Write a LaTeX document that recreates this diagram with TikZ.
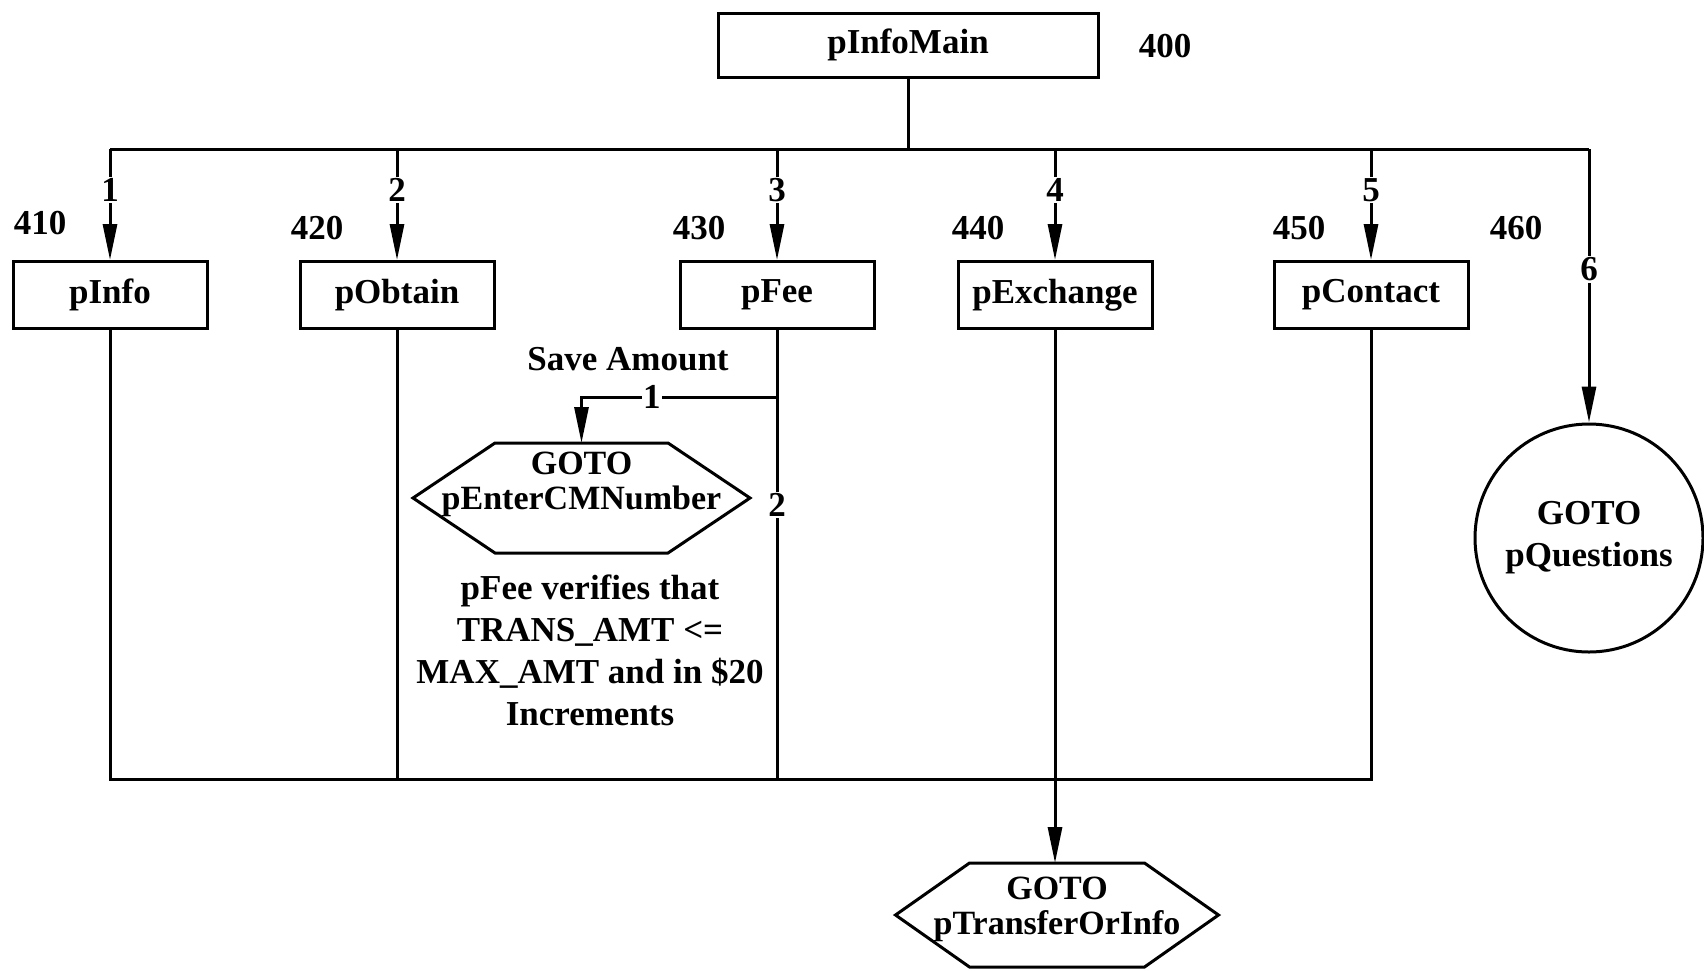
\documentclass[tikz,border=0pt]{standalone}
\usepackage{fontspec}
\setmainfont{Liberation Serif}
\usetikzlibrary{arrows.meta,calc}
\begin{document}
\begin{tikzpicture}[x=1pt,y=-1pt, line width=3pt,
  every node/.style={font=\bfseries\fontsize{35}{42}\selectfont},
  box/.style={draw, minimum width=194pt, minimum height=67pt, inner sep=0pt},
  numlab/.style={fill=white, inner sep=1.5pt},
  arr/.style={-{Triangle[length=36pt,width=14pt]}},
  hexbase/.style={draw=none, inner sep=0pt, outer sep=0pt},
  hextext/.style={align=center, font=\bfseries\fontsize{34}{35}\selectfont}
]
\useasboundingbox (0,0) rectangle (1704,970);
% main box
\node[box, minimum width=380pt, minimum height=64pt] (main) at (908,45) {pInfoMain};
\node (r400) at (1165,46) {400};
% second row
\node[box] (pinfo) at (110,295) {pInfo};
\node[box] (pobtain) at (397,295) {pObtain};
\node[box] (pfee) at (777,295) {pFee};
\node[box] (pexch) at (1055,295) {pExchange};
\node[box] (pcontact) at (1371,295) {pContact};
\node[circle, draw, minimum size=228pt, inner sep=0pt, align=center] (pq) at (1589,538) {GOTO\\pQuestions};
% reference numbers
\node (r410) at (40,223) {410};
\node (r420) at (317,228) {420};
\node (r430) at (699,228) {430};
\node (r440) at (978,228) {440};
\node (r450) at (1299,228) {450};
\node (r460) at (1516,228) {460};
% hexagon A
\node[hexbase, minimum width=337pt, minimum height=110pt] (hexA) at (581.5,498) {};
\draw ($(hexA.north west)+(82,0)$) -- ($(hexA.north east)+(-82,0)$) -- (hexA.east)
  -- ($(hexA.south east)+(-82,0)$) -- ($(hexA.south west)+(82,0)$) -- (hexA.west) -- cycle;
\node[hextext] (hexAt) at ($(hexA.center)+(0,-14)$) {GOTO\\pEnterCMNumber};
% hexagon B
\node[hexbase, minimum width=323pt, minimum height=104pt] (hexB) at (1057,915) {};
\draw ($(hexB.north west)+(74,0)$) -- ($(hexB.north east)+(-74,0)$) -- (hexB.east)
  -- ($(hexB.south east)+(-74,0)$) -- ($(hexB.south west)+(74,0)$) -- (hexB.west) -- cycle;
\node[hextext] (hexBt) at ($(hexB.center)+(0,-6)$) {GOTO\\pTransferOrInfo};
% texts
\node (save) at (628,359) {Save Amount};
\node[align=center] (note) at (590,650) {pFee verifies that\\TRANS\_AMT <=\\MAX\_AMT and in \$20\\Increments};
% coordinates
\coordinate (bt) at (0,149);
\coordinate (bb) at (0,779);
\coordinate (y1) at (0,397);
\coordinate (j1) at (pfee.south |- y1);
% connectors
\draw (main.south) -- (main.south |- bt);
\draw (pinfo.north |- bt) -- (pq.north |- bt);
\draw[arr] (pinfo.north |- bt) -- node[numlab,pos=0.37]{1} (pinfo.north);
\draw[arr] (pobtain.north |- bt) -- node[numlab,pos=0.37]{2} (pobtain.north);
\draw[arr] (pfee.north |- bt) -- node[numlab,pos=0.37]{3} (pfee.north);
\draw[arr] (pexch.north |- bt) -- node[numlab,pos=0.37]{4} (pexch.north);
\draw[arr] (pcontact.north |- bt) -- node[numlab,pos=0.37]{5} (pcontact.north);
\draw[arr] (pq.north |- bt) -- node[numlab,pos=0.44]{6} (pq.north);
\draw (pinfo.south) -- (pinfo.south |- bb) -- (pcontact.south |- bb) -- (pcontact.south);
\draw (pobtain.south) -- (pobtain.south |- bb);
\draw (pfee.south) -- node[numlab,pos=0.39]{2} (pfee.south |- bb);
\draw[arr] (j1) -- node[numlab,pos=0.64]{1} (hexA.north |- j1) -- (hexA.north);
\draw[arr] (pexch.south) -- (pexch.south |- hexB.north);
\end{tikzpicture}
\end{document}
